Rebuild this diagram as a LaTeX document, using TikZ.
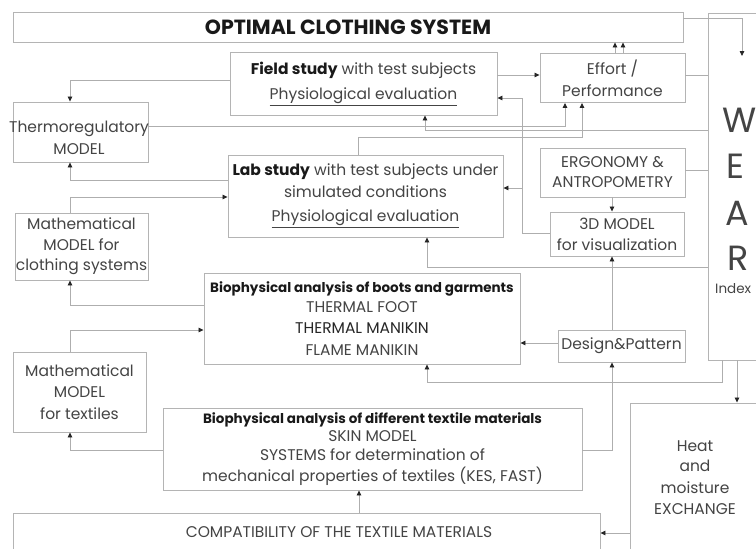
\documentclass[tikz,border=0pt]{standalone}
\usepackage{fontspec}
\setmainfont{Poppins}
\usetikzlibrary{arrows.meta}
\definecolor{ln}{HTML}{AEAEAE}
\definecolor{bx}{HTML}{B4B4B4}
\definecolor{tx}{HTML}{444444}
\definecolor{ah}{HTML}{262626}
\newcommand\hdfont{\fontsize{13.5}{21}\selectfont\bfseries\color{black!90}}
\begin{document}
\begin{tikzpicture}[x=1pt,y=-1pt,
  box/.style={draw=bx, line width=0.9pt, inner sep=0pt, text=tx, align=center, font=\fontsize{15.5}{21}\selectfont},
  txt/.style={inner sep=0pt, text=tx, align=center, font=\fontsize{15.5}{21}\selectfont},
  big/.style={inner sep=0pt, text=tx, anchor=west, font=\fontsize{35}{35}\selectfont},
  conn/.style={draw=ln, line width=0.8pt},
  arr/.style={conn, -{Triangle[length=5pt,width=4.5pt,color=ah]}}
]
\useasboundingbox (0,0) rectangle (756,549);
\fill[white] (0,0) rectangle (756,549);
% boxes
\node[box, minimum width=670pt, minimum height=30pt, text=black!90, font=\fontsize{20.5}{22}\selectfont\bfseries] (title) at (348,27) {OPTIMAL CLOTHING SYSTEM};
\node[box, minimum width=82pt, minimum height=347pt] (wear) at (749,186.5) {};
\node[box, minimum width=267pt, minimum height=63pt] (field) at (363.5,83.5) {{\bfseries\color{black!90}Field study} with test subjects\\[4pt]\underline{Physiological evaluation}};
\node[box, minimum width=145pt, minimum height=49pt] (effort) at (612.5,78) {Effort /\\[1pt]Performance};
\node[box, minimum width=135pt, minimum height=60pt] (thermo) at (80.5,132) {};
\node[txt] (thermotxt) at (79,138) {Thermoregulatory\\[1pt]MODEL};
\node[box, minimum width=275pt, minimum height=82pt] (lab) at (365.5,196) {{\bfseries\color{black!90}Lab study} with test subjects under\\[1pt]simulated conditions\\[3pt]\underline{Physiological evaluation}};
\node[box, minimum width=145pt, minimum height=49pt] (ergo) at (612.5,172.5) {ERGONOMY \&\\[-1pt]ANTROPOMETRY};
\node[box, minimum width=134pt, minimum height=44pt] (tdm) at (617,234) {3D MODEL\\for visualization};
\node[box, minimum width=133pt, minimum height=67pt] (mathcloth) at (81.5,246.5) {Mathematical\\MODEL for\\[-1pt]clothing systems};
\node[box, minimum width=316pt, minimum height=91pt] (bioboots) at (362,318.5) {{\hdfont Biophysical analysis of boots and garments}\\[-1pt]THERMAL FOOT\\{\color{black!85}THERMAL MANIKIN}\\[1pt]FLAME MANIKIN};
\node[box, minimum width=127pt, minimum height=32pt] (design) at (621.5,346) {Design\&Pattern};
\node[box, minimum width=133pt, minimum height=80pt] (mathtex) at (79.5,392) {Mathematical\\MODEL\\[1pt]for textiles};
\node[box, minimum width=419pt, minimum height=82pt] (biotex) at (372.5,449) {{\hdfont Biophysical analysis of different textile materials}\\[-3pt]SKIN MODEL\\[-2pt]SYSTEMS for determination of\\mechanical properties of textiles (KES, FAST)};
\node[box, minimum width=587pt, minimum height=62pt] (compat) at (306.5,544) {};
\node[txt] (compattxt) at (339,532) {COMPATIBILITY OF THE TEXTILE MATERIALS};
\node[box, minimum width=160pt, minimum height=197pt] (heat) at (710,501.5) {};
\node[txt] (heattxt) at (695,478) {Heat\\[-1pt]and\\[1pt]moisture\\EXCHANGE};
% WEAR letters
\node[big] (lw) at (722,120) {W};
\node[big] (le) at (726,166) {E};
\node[big] (la) at (725,213) {A};
\node[big] (lr) at (727,258) {R};
\node[txt, anchor=west, font=\fontsize{13.5}{16}\selectfont] (lidx) at (715,289) {Index};
% guide coordinates
\coordinate (k1) at (70,80);
\coordinate (k2) at (70,180);
\coordinate (k3) at (70,197);
\coordinate (k4) at (70,305);
\coordinate (k5) at (70,330);
\coordinate (k6) at (70,450);
\coordinate (k7) at (359,0);
\coordinate (k8) at (0,533);
\coordinate (k9) at (737,0);
\coordinate (k10) at (722,382);
\coordinate (k10b) at (427,382);
\coordinate (k11) at (0,343);
\coordinate (k12) at (612,450);
\coordinate (k15) at (427,267);
\coordinate (k16) at (522,233);
\coordinate (k16b) at (522,98);
\coordinate (k16c) at (522,188);
\coordinate (k17) at (0,75);
\coordinate (k18) at (565,126);
\coordinate (k19) at (425,130);
\coordinate (k20) at (358,137);
\coordinate (k20b) at (582,137);
\coordinate (k22) at (0,170);
\coordinate (xa) at (615,0);
\coordinate (xb) at (623,0);
\coordinate (k24) at (742,18);
\coordinate (wearin) at (742,56);
% connectors
\draw[arr] (field.west |- k1) -- (k1) -- (thermo.north -| k1);
\draw[arr] (lab.west |- k2) -- (k2) -- (thermo.south -| k2);
\draw[arr] (mathcloth.north -| k3) -- (k3) -- (lab.west |- k3);
\draw[arr] (bioboots.west |- k4) -- (k4) -- (mathcloth.south -| k4);
\draw[arr] (mathtex.north -| k5) -- (k5) -- (bioboots.west |- k5);
\draw[arr] (biotex.west |- k6) -- (k6) -- (mathtex.south -| k6);
\draw[arr] (compat.north -| k7) -- (biotex.south -| k7);
\draw[arr] (heat.west |- k8) -- (compat.east |- k8);
\draw[arr] (wear.south -| k9) -- (heat.north -| k9);
\draw[arr] (wear.south -| k10) -- (k10) -- (k10b) -- (bioboots.south -| k10b);
\draw[arr] (design.west |- k11) -- (bioboots.east |- k11);
\draw[arr] (biotex.east |- k12) -- (k12) -- (design.south -| k12);
\draw[arr] (design.north -| k12) -- (tdm.south -| k12);
\draw[arr] (ergo.south -| k12) -- (tdm.north -| k12);
\draw[arr] (wear.west |- k15) -- (k15) -- (lab.south -| k15);
\draw[arr] (tdm.west |- k16) -- (k16) -- (k16b) -- (field.east |- k16b);
\draw[arr] (k16c) -- (lab.east |- k16c);
\draw[arr] (field.east |- k17) -- (effort.west |- k17);
\draw[arr] (thermo.east |- k18) -- (k18) -- (effort.south -| k18);
\draw[arr] (wear.west |- k19) -- (k19) -- (field.south -| k19);
\draw[arr] (lab.north -| k20) -- (k20) -- (k20b) -- (effort.south -| k20b);
\draw[conn] (effort.east |- k17) -- (wear.west |- k17);
\draw[conn] (ergo.east |- k22) -- (wear.west |- k22);
\draw[arr] (effort.north -| xa) -- (title.south -| xa);
\draw[arr] (effort.north -| xb) -- (title.south -| xb);
\draw[arr] (title.east |- k24) -- (k24) -- (wearin);
\end{tikzpicture}
\end{document}
